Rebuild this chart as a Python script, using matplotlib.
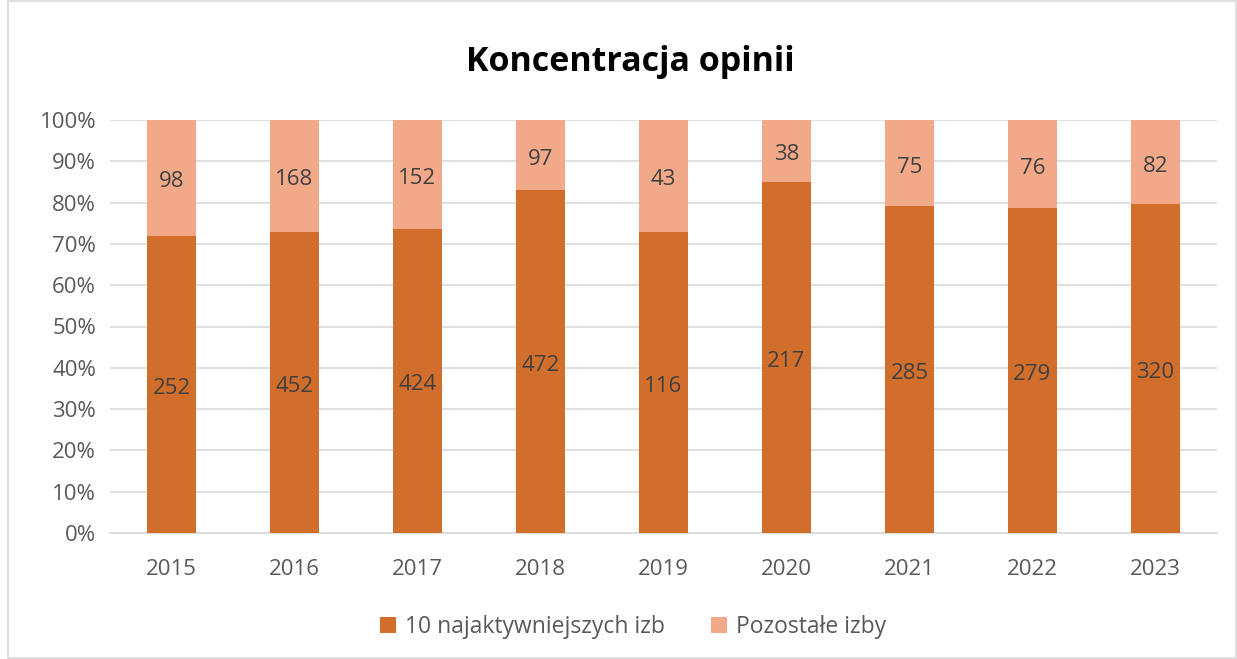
import matplotlib
matplotlib.use('Agg')
import matplotlib.pyplot as plt
import matplotlib.transforms as mtransforms
import numpy as np

years = ['2015', '2016', '2017', '2018', '2019', '2020', '2021', '2022', '2023']
top10 = [252, 452, 424, 472, 116, 217, 285, 279, 320]
others = [98, 168, 152, 97, 43, 38, 75, 76, 82]

c_top = '#D26E2B'
c_other = '#F1A98A'

plt.rcParams['font.family'] = ['Open Sans', 'DejaVu Sans']

fig = plt.figure(figsize=(12.37, 6.59), dpi=100)
ax = fig.add_axes([110 / 1237, 1 - 533 / 659, 1107 / 1237, 413 / 659])

top10 = np.array(top10, dtype=float)
others = np.array(others, dtype=float)
total = top10 + others
p_top = top10 / total
p_other = others / total
x = np.arange(len(years))

ax.bar(x, p_top, width=0.4, color=c_top, label='10 najaktywniejszych izb', zorder=3)
ax.bar(x, p_other, width=0.4, bottom=p_top, color=c_other, label='Pozostałe izby', zorder=3)

# nudge labels a little down, like the original
lab_tr = ax.transData + mtransforms.ScaledTranslation(0, -4 / 100, fig.dpi_scale_trans)
for i in range(len(years)):
    ax.text(x[i], p_top[i] / 2, f'{int(top10[i])}', ha='center', va='center',
            fontsize=16, color='#404040', zorder=4, transform=lab_tr)
    ax.text(x[i], p_top[i] + p_other[i] / 2, f'{int(others[i])}', ha='center', va='center',
            fontsize=16, color='#404040', zorder=4, transform=lab_tr)

ax.set_xlim(-0.5, len(years) - 0.5)
ax.set_ylim(0, 1)
ax.set_yticks(np.arange(0, 1.01, 0.1))
ax.set_yticklabels([f'{int(round(v * 100))}%' for v in np.arange(0, 1.01, 0.1)])
ax.set_xticks(x)
ax.set_xticklabels(years)
ax.tick_params(axis='both', length=0, labelsize=16, labelcolor='#595959')
ax.tick_params(axis='x', pad=19)
ax.tick_params(axis='y', pad=10)
ax.grid(axis='y', color='#D9D9D9', linewidth=1.2, zorder=0)
for side in ['top', 'right', 'left']:
    ax.spines[side].set_visible(False)
ax.spines['bottom'].set_color('#D9D9D9')
ax.spines['bottom'].set_linewidth(1.2)

fig.text(630 / 1237, 1 - 62 / 659, 'Koncentracja opinii', ha='center', va='center',
         fontsize=24.5, fontweight='bold', color='black')

fig.legend(loc='center', bbox_to_anchor=(633 / 1237, 1 - 627 / 659), ncol=2, frameon=False,
           fontsize=16.5, handlelength=0.7, handleheight=0.7, handletextpad=0.4,
           columnspacing=2.0, labelcolor='#595959')

fig.patches.append(plt.Rectangle((8 / 1237, 0.002), 1 - 9 / 1237, 0.996, transform=fig.transFigure,
                                 fill=False, edgecolor='#D9D9D9', linewidth=1.2))

fig.savefig('out.png', dpi=100)
